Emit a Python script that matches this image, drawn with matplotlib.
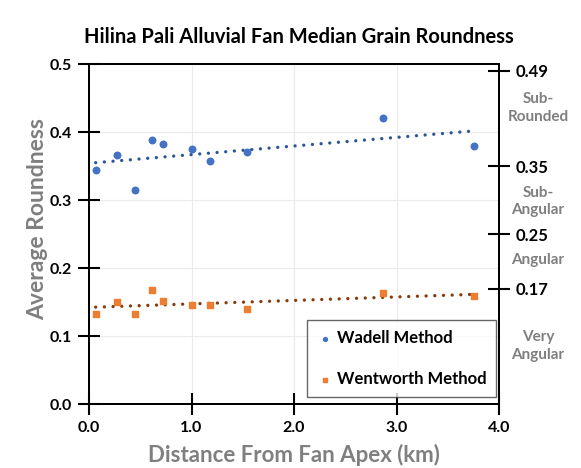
import matplotlib.pyplot as plt
import matplotlib.transforms as mtransforms
import numpy as np

plt.rcParams['font.family'] = ['Lato', 'DejaVu Sans']

# distance from fan apex (km)
distance = [0.065, 0.27, 0.45, 0.61, 0.72, 1.0, 1.18, 1.54, 2.87, 3.76]
wadell = [0.345, 0.366, 0.315, 0.389, 0.383, 0.375, 0.358, 0.370, 0.420, 0.379]
wentworth = [0.132, 0.150, 0.132, 0.168, 0.152, 0.146, 0.146, 0.140, 0.163, 0.159]

class_ticks = [0.17, 0.25, 0.35, 0.49]
class_labels = ["Very\nAngular", "Angular", "Sub-\nAngular", "Sub-\nRounded"]
class_pos = [0.086, 0.212, 0.298, 0.435]

blue = '#4472C4'
blue_dark = '#2F5597'
orange = '#ED7D31'
brown = '#843C0C'
gray = '#7F7F7F'

fig = plt.figure(figsize=(5.81, 4.68), dpi=100)
ax = fig.add_axes([0.1532, 0.1361, 0.7057, 0.7271])

x = np.array(distance)
xs = np.array([x.min(), x.max()])
for vals, c in [(wadell, blue_dark), (wentworth, brown)]:
    m, b = np.polyfit(x, vals, 1)
    ax.plot(xs, m * xs + b, color=c, linestyle=(0, (0.01, 2.6)), linewidth=2.4,
            dash_capstyle='round', zorder=2)

ax.scatter(distance, wadell, s=22, color=blue, marker='o', label='Wadell Method', zorder=3)
ax.scatter(distance, wentworth, s=20, color=orange, marker='s', label='Wentworth Method', zorder=3)

ax.set_xlim(0, 4)
ax.set_ylim(0, 0.5)
ax.set_xticks([0, 1, 2, 3, 4])
ax.set_xticklabels([f"{v:.1f}" for v in [0, 1, 2, 3, 4]])
ax.set_yticks([0, 0.1, 0.2, 0.3, 0.4, 0.5])
ax.set_yticklabels([f"{v:.1f}" for v in [0, 0.1, 0.2, 0.3, 0.4, 0.5]])
ax.grid(True, color='#EBEBEB', linewidth=0.8)
ax.set_axisbelow(True)
ax.tick_params(direction='inout', length=16, width=1.5, labelsize=11.5, pad=4)
for lab in ax.get_xticklabels() + ax.get_yticklabels():
    lab.set_fontweight('bold')
for sp in ax.spines.values():
    sp.set_linewidth(1.4)

ax2 = ax.twinx()
ax2.set_ylim(0, 0.5)
ax2.set_yticks(class_ticks)
ax2.set_yticklabels([f"{v:.2f}" for v in class_ticks])
ax2.tick_params(direction='inout', length=16, width=1.5, labelsize=12, pad=4)
for lab in ax2.get_yticklabels():
    lab.set_fontweight('bold')
for sp in ax2.spines.values():
    sp.set_linewidth(1.4)

trans = mtransforms.blended_transform_factory(ax.transAxes, ax.transData)
for lab, yv in zip(class_labels, class_pos):
    ax.text(1.095, yv, lab, transform=trans, ha='center', va='center',
            fontsize=11, fontweight='bold', color=gray, linespacing=1.35)

ax.set_xlabel('Distance From Fan Apex (km)', fontsize=16, fontweight='bold',
              color=gray)
ax.xaxis.set_label_coords(0.5, -0.115)
ax.set_ylabel('Average Roundness', fontsize=16.5, fontweight='bold', color=gray)
ax.yaxis.set_label_coords(-0.1, 0.545)
fig.text(0.515, 0.921, 'Hilina Pali Alluvial Fan Median Grain Roundness',
         ha='center', va='center', fontsize=14.5, fontweight='bold')

leg = ax.legend(loc='lower right', bbox_to_anchor=(0.993, 0.021), borderaxespad=0,
                fancybox=False, edgecolor='#404040', prop={'weight': 'bold', 'size': 12},
                markerscale=0.6, handletextpad=0.25, labelspacing=1.5,
                borderpad=0.6, handlelength=0.9)
leg.get_frame().set_linewidth(1.0)
leg.set_zorder(5)

fig.savefig('out.png', dpi=100)
